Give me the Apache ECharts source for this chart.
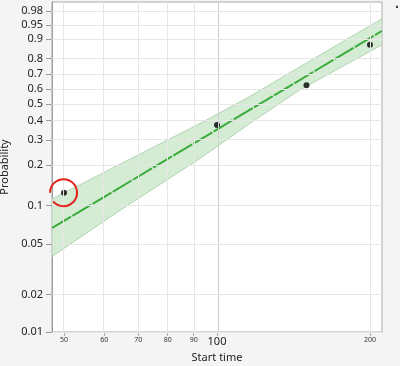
<!DOCTYPE html>
<html><head><meta charset="utf-8">
<script src="https://cdn.jsdelivr.net/npm/echarts@6/dist/echarts.min.js"></script>
<style>html,body{margin:0;padding:0;background:#f4f4f4}#c{width:400px;height:366px}</style>
</head><body><div id="c"></div>
<script>
// ---- data ----
const startTimes = [50, 100, 150, 200];
const probabilities = [0.125, 0.375, 0.625, 0.875];
const fitTimes = [47.4, 211];
const fitProb = [0.067, 0.932];
const bandTimes = [47.35, 64.5, 92.6, 115.9, 145.6, 211.2];
const bandUpper = [0.112, 0.203, 0.383, 0.548, 0.749, 0.966];
const bandLower = [0.040, 0.092, 0.223, 0.382, 0.594, 0.875];
const xTickValues = [50, 60, 70, 80, 90, 100, 200];
const yTickValues = [0.01, 0.02, 0.05, 0.1, 0.2, 0.3, 0.4, 0.5, 0.6, 0.7, 0.8, 0.9, 0.95, 0.98];
const xRange = [47.35, 211.2];
const yRange = [0.01, 0.99];

// ---- scale transforms (log time, Weibull probability) ----
const fx = t => Math.log(t);
const fy = p => Math.log(-Math.log(1 - p));

const FONT = '"Noto Sans", "Open Sans", sans-serif';
const chart = echarts.init(document.getElementById('c'), null, {renderer: 'canvas'});

const gridLines = [];
xTickValues.forEach(t => gridLines.push({xAxis: fx(t), lineStyle: {color: t === 100 ? '#cdcdcd' : '#e6e6e6'}}));
yTickValues.forEach(p => gridLines.push({yAxis: fy(p)}));

chart.setOption({
  animation: false,
  backgroundColor: '#f4f4f4',
  grid: {left: 52, right: 18, top: 2, bottom: 34, containLabel: false, outerBoundsMode: 'none',
    show: true, backgroundColor: '#ffffff', borderColor: '#ababab', borderWidth: 1},
  xAxis: {
    type: 'value', min: fx(xRange[0]), max: fx(xRange[1]),
    name: 'Start time', nameLocation: 'middle', nameGap: 19,
    nameTextStyle: {fontFamily: FONT, fontSize: 11, color: '#222'},
    axisLine: {show: true, onZero: false, lineStyle: {color: '#9a9a9a'}},
    axisTick: {show: true, customValues: xTickValues.map(fx), length: 4, lineStyle: {color: '#b0b0b0'}},
    splitLine: {show: false},
    axisLabel: {
      customValues: xTickValues.map(fx), margin: 3,
      formatter: v => { const t = Math.round(Math.exp(v)); return t === 100 ? '{big|' + t + '}' : '{small|' + t + '}'; },
      rich: {
        small: {fontFamily: FONT, fontSize: 7, color: '#333', lineHeight: 9},
        big: {fontFamily: FONT, fontSize: 11, color: '#222', lineHeight: 13, padding: [0, 0, 0, 0]}
      }
    }
  },
  yAxis: {
    type: 'value', min: fy(yRange[0]), max: fy(yRange[1]),
    name: 'Probability', nameLocation: 'middle', nameGap: 34,
    nameTextStyle: {fontFamily: FONT, fontSize: 11, color: '#222'},
    axisLine: {show: true, onZero: false, lineStyle: {color: '#9a9a9a'}},
    axisTick: {show: true, customValues: yTickValues.map(fy), length: 6, lineStyle: {color: '#9a9a9a'}},
    splitLine: {show: false},
    axisLabel: {
      customValues: yTickValues.map(fy), margin: 9,
      fontFamily: FONT, fontSize: 11, color: '#222',
      formatter: v => {
        let best = yTickValues[0];
        yTickValues.forEach(p => { if (Math.abs(fy(p) - v) < Math.abs(fy(best) - v)) best = p; });
        return String(best);
      }
    }
  },
  graphic: [{type: 'text', left: 395, top: 1, style: {text: '·', fontSize: 14, fontWeight: 'bold', fill: '#333'}}],
  series: [
    {
      type: 'line', data: [], z: 1, silent: true,
      markLine: {silent: true, symbol: 'none', label: {show: false}, animation: false,
        lineStyle: {color: '#e6e6e6', width: 1, type: 'solid'}, data: gridLines}
    },
    {
      type: 'custom', z: 2, silent: true, clip: true,
      data: [[fx(bandTimes[0]), fy(bandUpper[0])]],
      renderItem: (params, api) => {
        const up = bandTimes.map((t, i) => api.coord([fx(t), fy(bandUpper[i])]));
        const lo = bandTimes.map((t, i) => api.coord([fx(t), fy(bandLower[i])])).reverse();
        return {type: 'polygon', shape: {points: up.concat(lo)},
          style: {fill: '#d4ecd4', stroke: '#b2d3b2', lineWidth: 1}};
      }
    },
    {
      type: 'line', z: 3, silent: true, symbol: 'none',
      data: fitTimes.map((t, i) => [fx(t), fy(fitProb[i])]),
      lineStyle: {color: '#3bab3b', width: 2, type: [22, 1.5]}
    },
    {
      type: 'scatter', z: 4, silent: true, symbolSize: 6,
      itemStyle: {color: '#000'},
      data: startTimes.map((t, i) => [fx(t), fy(probabilities[i])])
    },
    {
      type: 'custom', z: 5, silent: true, clip: false,
      data: [[fx(startTimes[0]), fy(probabilities[0])]],
      renderItem: (params, api) => {
        const c = api.coord([api.value(0), api.value(1)]);
        return {type: 'arc', shape: {cx: c[0] - 0.5, cy: c[1], r: 13.5, startAngle: Math.PI, endAngle: 140 * Math.PI / 180, clockwise: true},
          style: {fill: null, stroke: '#e3211d', lineWidth: 2}};
      }
    }
  ]
});
</script></body></html>
